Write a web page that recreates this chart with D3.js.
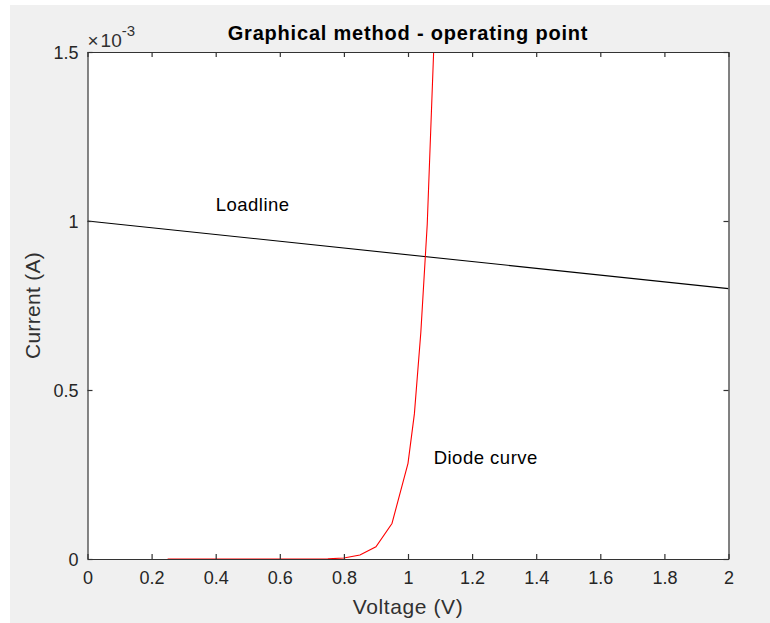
<!DOCTYPE html>
<html>
<head>
<meta charset="utf-8">
<script src="https://cdn.jsdelivr.net/npm/d3@7"></script>
<style>
  html, body { margin: 0; padding: 0; background: #ffffff; }
  svg { display: block; }
  text { font-family: "Liberation Sans", Arial, Helvetica, sans-serif; fill: #262626; }
</style>
</head>
<body>
<svg id="chart" width="770" height="623"></svg>
<script>
// Diode I-V characteristic (volts, amps)
const diodeVoltage = [0.25, 0.30, 0.35, 0.40, 0.45, 0.50, 0.55, 0.60, 0.65, 0.70, 0.75, 0.80, 0.85, 0.90, 0.95, 1.00, 1.02, 1.04, 1.06, 1.08, 1.10];
const diodeCurrent = [0, 0, 0, 0, 0, 0, 0, 0, 0, 0.0000001e-3, 0.0005e-3, 0.003e-3, 0.012e-3, 0.036e-3, 0.105e-3, 0.283e-3, 0.43e-3, 0.67e-3, 0.99e-3, 1.5e-3, 2.25e-3];

// Load line: I = (10 V - V) / 10 kOhm
const loadVoltage = [0, 2];
const loadCurrent = [1.0e-3, 0.8e-3];

// Axis ticks
const xTicks = [0, 0.2, 0.4, 0.6, 0.8, 1, 1.2, 1.4, 1.6, 1.8, 2];
const xTickLabels = ["0", "0.2", "0.4", "0.6", "0.8", "1", "1.2", "1.4", "1.6", "1.8", "2"];
const yTicks = [0, 0.5e-3, 1.0e-3, 1.5e-3];
const yTickLabels = ["0", "0.5", "1", "1.5"];

// Text annotations
const notes = [
  { text: "Loadline", v: 0.4, i: 1.05e-3 },
  { text: "Diode curve", v: 1.08, i: 0.3e-3 }
];

const titleText = "Graphical method - operating point";
const xLabelText = "Voltage (V)";
const yLabelText = "Current (A)";

const svg = d3.select("#chart");
const W = 770, H = 623;
const plot = { left: 87.5, top: 52, right: 728.5, bottom: 559 };
const axisColor = "#333333";
const tickLen = 5;

// figure background
svg.append("rect").attr("x", 10).attr("y", 5).attr("width", W - 10).attr("height", H - 5).attr("fill", "#f0f0f0");
// axes background
svg.append("rect")
  .attr("x", plot.left).attr("y", plot.top)
  .attr("width", plot.right - plot.left).attr("height", plot.bottom - plot.top)
  .attr("fill", "#ffffff");

const x = d3.scaleLinear().domain([0, 2]).range([plot.left, plot.right]);
const y = d3.scaleLinear().domain([0, 1.5e-3]).range([plot.bottom, plot.top]);

svg.append("defs").append("clipPath").attr("id", "plotClip")
  .append("rect")
  .attr("x", plot.left).attr("y", plot.top)
  .attr("width", plot.right - plot.left).attr("height", plot.bottom - plot.top);

const lines = svg.append("g").attr("clip-path", "url(#plotClip)");
const line = d3.line().x(d => x(d[0])).y(d => y(d[1]));

lines.append("path")
  .datum(loadVoltage.map((v, k) => [v, loadCurrent[k]]))
  .attr("d", line)
  .attr("fill", "none").attr("stroke", "#000000").attr("stroke-width", 1.1);

lines.append("path")
  .datum(diodeVoltage.map((v, k) => [v, diodeCurrent[k]]))
  .attr("d", line)
  .attr("fill", "none").attr("stroke", "#ff0000").attr("stroke-width", 1.1);

// Axes: ticks inward on all four sides, box outline
const fmtX = d => xTickLabels[xTicks.indexOf(d)];
const fmtY = d => yTickLabels[yTicks.indexOf(d)];

const gx = svg.append("g").attr("transform", `translate(0,${plot.bottom})`)
  .call(d3.axisBottom(x).tickValues(xTicks).tickFormat(fmtX).tickSizeInner(-tickLen).tickSizeOuter(0).tickPadding(12));
const gxTop = svg.append("g").attr("transform", `translate(0,${plot.top})`)
  .call(d3.axisTop(x).tickValues(xTicks).tickFormat("").tickSizeInner(-tickLen).tickSizeOuter(0));
const gy = svg.append("g").attr("transform", `translate(${plot.left},0)`)
  .call(d3.axisLeft(y).tickValues(yTicks).tickFormat(fmtY).tickSizeInner(-tickLen).tickSizeOuter(0).tickPadding(9));
const gyRight = svg.append("g").attr("transform", `translate(${plot.right},0)`)
  .call(d3.axisRight(y).tickValues(yTicks).tickFormat("").tickSizeInner(-tickLen).tickSizeOuter(0));

[gx, gxTop, gy, gyRight].forEach(g => {
  g.select(".domain").attr("stroke", axisColor).attr("stroke-width", 1.2);
  g.selectAll(".tick line").attr("stroke", axisColor).attr("stroke-width", 1.2);
  g.selectAll(".tick text").attr("fill", "#303030")
    .style("font-family", '"Liberation Sans", Arial, sans-serif').style("font-size", "18px");
});
gx.selectAll(".tick text").attr("dy", "0.71em");
gy.selectAll(".tick text").attr("dy", "0.36em");

// exponent multiplier above the y axis
const expo = svg.append("text").attr("x", plot.left).attr("y", 47)
  .style("font-size", "19px").style("fill", "#303030");
expo.append("tspan").style("letter-spacing", "2px").text("\u00d7");
expo.append("tspan").text("10");
expo.append("tspan").attr("dy", -11).style("font-size", "15px").text("-3");

// title
svg.append("text")
  .attr("x", (plot.left + plot.right) / 2).attr("y", 40)
  .attr("text-anchor", "middle")
  .style("font-size", "20px").style("font-weight", "bold").style("letter-spacing", "0.8px")
  .style("fill", "#000000")
  .text(titleText);

// axis labels
svg.append("text")
  .attr("x", (plot.left + plot.right) / 2).attr("y", 614)
  .attr("text-anchor", "middle").style("font-size", "21px").style("letter-spacing", "0.6px")
  .style("fill", "#303030")
  .text(xLabelText);
svg.append("text")
  .attr("transform", `translate(40,${(plot.top + plot.bottom) / 2}) rotate(-90)`)
  .attr("text-anchor", "middle").style("font-size", "21px").style("letter-spacing", "0.3px")
  .style("fill", "#303030")
  .text(yLabelText);

// annotations
svg.selectAll("text.note").data(notes).enter().append("text")
  .attr("class", "note")
  .attr("x", d => x(d.v)).attr("y", d => y(d.i))
  .attr("dy", "0.36em")
  .style("font-size", "18.5px").style("letter-spacing", "0.5px").style("fill", "#000000")
  .text(d => d.text);
</script>
</body>
</html>
